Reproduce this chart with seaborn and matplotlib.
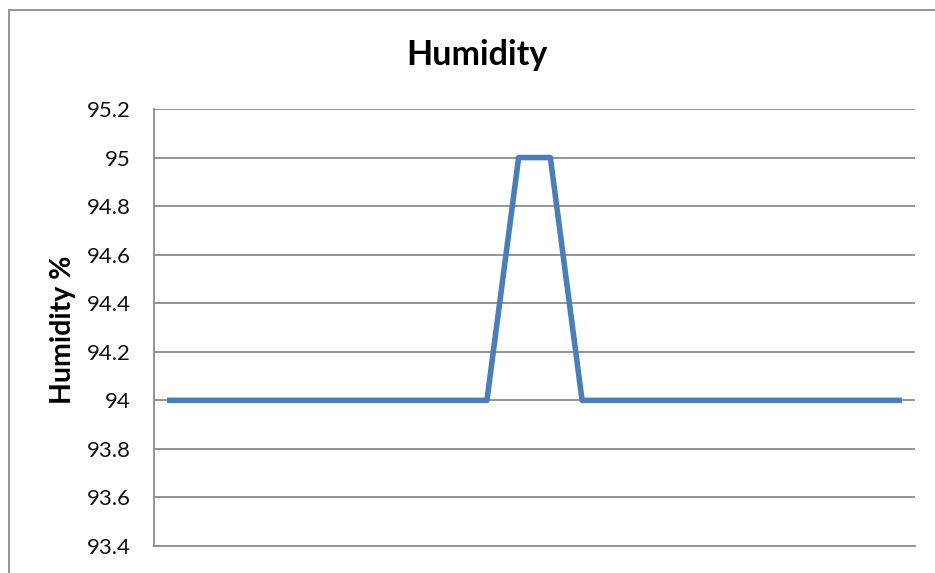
import matplotlib
matplotlib.use("Agg")
import pandas as pd
import seaborn as sns
import matplotlib.pyplot as plt
from matplotlib.patches import Rectangle

# Readings (one per sample)
reading = list(range(1, 25))
humidity = [94, 94, 94, 94, 94, 94, 94, 94, 94, 94, 94,
            95, 95,
            94, 94, 94, 94, 94, 94, 94, 94, 94, 94, 94]
y_ticks = [93.4, 93.6, 93.8, 94.0, 94.2, 94.4, 94.6, 94.8, 95.0, 95.2]
y_labels = ["93.4", "93.6", "93.8", "94", "94.2", "94.4", "94.6", "94.8", "95", "95.2"]

df = pd.DataFrame({"Reading": reading, "Humidity": humidity})

sns.set_style("white")
plt.rcParams["font.family"] = ["Lato", "DejaVu Sans"]

fig = plt.figure(figsize=(9.35, 5.73), dpi=100)
ax = fig.add_axes([154 / 935, 1 - 546 / 573, (915 - 154) / 935, (546 - 109) / 573])

sns.lineplot(data=df, x="Reading", y="Humidity", color="#4A7EBB",
             linewidth=4, ax=ax, solid_capstyle="projecting", solid_joinstyle="round")

ax.set_xlim(0.5, 24.5)
ax.set_ylim(93.4, 95.2)
ax.set_yticks(y_ticks)
ax.set_yticklabels(y_labels)
ax.set_xticks([])
ax.tick_params(axis="y", labelsize=16, length=0, pad=16.5, labelcolor="#111111")
ax.yaxis.grid(True, color="#8C8C8C", linewidth=1.3)
ax.set_axisbelow(True)

for side in ["top", "right"]:
    ax.spines[side].set_visible(False)
for side in ["left", "bottom"]:
    ax.spines[side].set_color("#8C8C8C")
    ax.spines[side].set_linewidth(1.3)

ax.set_xlabel("")
ax.set_ylabel("")

# title and axis label placed as in the chart area
fig.text(477 / 935, 1 - 65 / 573, "Humidity", fontsize=24.5, fontweight="bold",
         ha="center", va="baseline", color="#000000")
fig.text(63 / 935, 1 - 330 / 573, "Humidity %", fontsize=20.5, fontweight="bold",
         rotation=90, ha="center", va="center", color="#000000")

# outer chart border (cut off at the right and bottom)
fig.patches.append(Rectangle((9 / 935, -0.1), 1.2, 1.1 - 10 / 573,
                             transform=fig.transFigure, fill=False,
                             edgecolor="#8C8C8C", linewidth=1.3))

fig.savefig("out.png", dpi=100)
